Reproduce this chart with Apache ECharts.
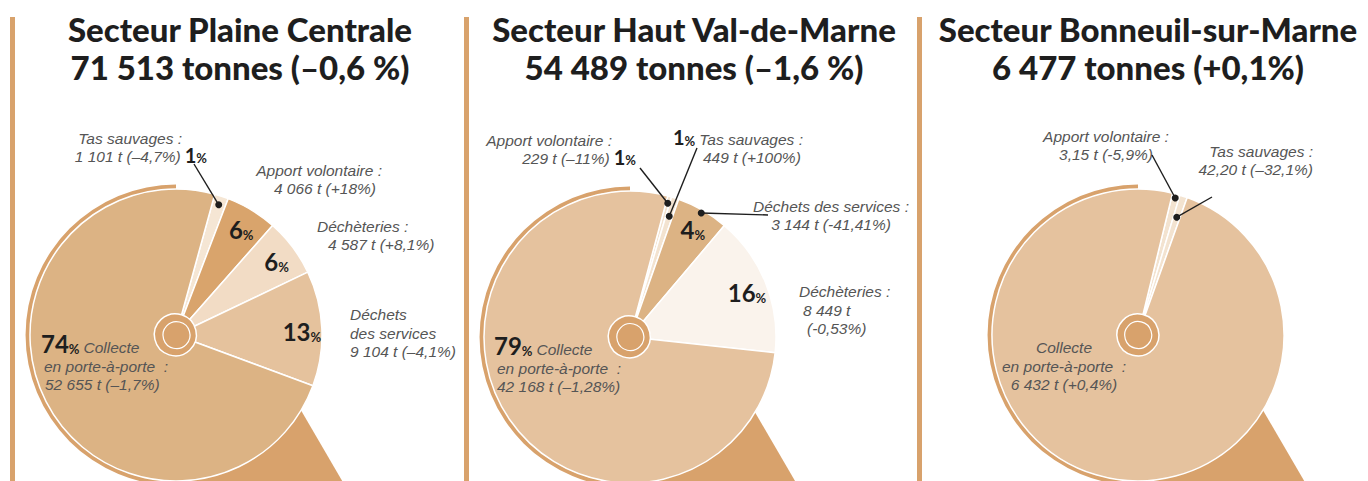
<!DOCTYPE html>
<html>
<head>
<meta charset="utf-8">
<title>Secteurs</title>
<script src="https://cdn.jsdelivr.net/npm/echarts@6/dist/echarts.min.js"></script>
<style>
html,body{margin:0;padding:0;background:#fff;}
#main{width:1368px;height:481px;}
</style>
</head>
<body>
<div id="main"></div>
<script>
// titres des trois secteurs
var titles = [
    'Secteur Plaine Centrale\n71 513 tonnes (–0,6 %)',
    'Secteur Haut Val-de-Marne\n54 489 tonnes (–1,6 %)',
    'Secteur Bonneuil-sur-Marne\n6 477 tonnes (+0,1%)'
];

// Plaine Centrale
var names1 = ['Tas sauvages', 'Apport volontaire', 'Déchèteries', 'Déchets des services', 'Collecte en porte-à-porte'];
var tonnes1 = [1101, 4066, 4587, 9104, 52655];
var labels1 = ['Tas sauvages :\n1 101 t (–4,7%)', 'Apport volontaire :\n4 066 t (+18%)', 'Déchèteries :\n4 587 t (+8,1%)', 'Déchets\ndes services\n9 104 t (–4,1%)', 'Collecte\nen porte-à-porte  :\n52 655 t (–1,7%)'];
var pct1 = ['1', '6', '6', '13', '74'];

// Haut Val-de-Marne
var names2 = ['Apport volontaire', 'Tas sauvages', 'Déchets des services', 'Déchèteries', 'Collecte en porte-à-porte'];
var tonnes2 = [229, 449, 3144, 8449, 42168];
var labels2 = ['Apport volontaire :\n229 t (–11%)', 'Tas sauvages :\n449 t (+100%)', 'Déchets des services :\n3 144 t (-41,41%)', 'Déchèteries :\n8 449 t\n(-0,53%)', 'Collecte\nen porte-à-porte  :\n42 168 t (–1,28%)'];
var pct2 = ['1', '1', '4', '16', '79'];

// Bonneuil-sur-Marne
var names3 = ['Apport volontaire', 'Tas sauvages', 'Collecte en porte-à-porte'];
var tonnes3 = [3.15, 42.20, 6432];
var labels3 = ['Apport volontaire :\n3,15 t (-5,9%)', 'Tas sauvages :\n42,20 t (–32,1%)', 'Collecte\nen porte-à-porte  :\n6 432 t (+0,4%)'];
var pct3 = ['', '', ''];

var ring = '#d8a26c';
var ink = '#1e1e1e';
var grey = '#555555';
var R = 146;

// mise en page (positions relatives au centre du camembert)
var sectors = [
    {
        names: names1, values: tonnes1, labels: labels1, pct: pct1, titleX: 240, barX: 10,
        cx: 176, cy: 335, start: 74.6, minAngle: 0,
        colors: ['#f5e6d4', '#d9a46c', '#f2dcc5', '#e5c29d', '#dcb384'],
        desc: [
            { dx: 31, dy: -189, align: 'right', pct: 'after', gaps: [25, 0] },
            { dx: 206, dy: -157, align: 'right', gaps: [0, 6] },
            { dx: 141, dy: -101, align: 'left', gaps: [0, 11] },
            { dx: 174, dy: -3, align: 'left' },
            { dx: -135, dy: 25, align: 'left', pct: 'big', gaps: [0, 3, 4] }
        ],
        inside: [0, 1, 1, 1, 0],
        leaders: [{ item: 0, r: 137, end: [18, -171] }]
    },
    {
        names: names2, values: tonnes2, labels: labels2, pct: pct2, titleX: 694, barX: 464,
        cx: 630, cy: 337, start: 75, minAngle: 0,
        colors: ['#f3e3d0', '#f3e3d0', '#dcb384', '#faf3ec', '#e5c29e'],
        desc: [
            { dx: 6, dy: -189, align: 'right', pct: 'after', gaps: [24, 0] },
            { dx: 43, dy: -190, align: 'left', pct: 'before', gaps: [0, 30] },
            { dx: 201, dy: -123, align: 'center' },
            { dx: 169, dy: -28, align: 'left', gaps: [0, 4, 8] },
            { dx: -136, dy: 25, align: 'left', pct: 'big', gaps: [0, 3, 3] }
        ],
        inside: [0, 0, 1, 1, 0],
        leaders: [
            { item: 0, r: 139, end: [10, -169] },
            { item: 1, r: 127, end: [67, -189] },
            { item: 2, r: 143, end: [138, -122] }
        ]
    },
    {
        names: names3, values: tonnes3, labels: labels3, pct: pct3, titleX: 1148, barX: 917,
        cx: 1138, cy: 335, start: 76.3, minAngle: 3,
        colors: ['#f3e3d0', '#f3e3d0', '#e5c29e'],
        desc: [
            { dx: -32, dy: -191, align: 'center' },
            { dx: 175, dy: -176, align: 'right' },
            { dx: -74, dy: 30, align: 'center' }
        ],
        inside: [0, 0, 0],
        leaders: [
            { item: 0, r: 142, end: [14, -180] },
            { item: 1, r: 124, end: [74, -138] }
        ]
    }
];

var rich = {
    txt: { fontFamily: 'Liberation Sans', fontStyle: 'italic', fontSize: 15.5, color: grey, lineHeight: 18.5, verticalAlign: 'bottom' },
    num: { fontFamily: 'Lato', fontWeight: 'bold', fontSize: 20, color: ink, lineHeight: 18.5, verticalAlign: 'bottom' },
    big: { fontFamily: 'Lato', fontWeight: 'bold', fontSize: 24, color: ink, lineHeight: 28, verticalAlign: 'bottom' },
    pc: { fontFamily: 'Lato', fontWeight: 'bold', fontSize: 13, color: ink, lineHeight: 18, verticalAlign: 'bottom' },
    sp: { fontSize: 14, width: 4, lineHeight: 18, verticalAlign: 'bottom' }
};
sectors.forEach(function (s) {
    s.desc.forEach(function (c) {
        (c.gaps || []).forEach(function (g) {
            if (g) rich['g' + g] = { width: g, fontSize: 14, lineHeight: 18, verticalAlign: 'bottom' };
        });
    });
});

function richFor(text, pct, c) {
    var lines = text.split('\n');
    return lines.map(function (ln, i) {
        var t = '{txt|' + ln + '}';
        var g = c.gaps ? c.gaps[i] : 0;
        if (g) t = c.align === 'right' ? t + '{g' + g + '| }' : '{g' + g + '| }' + t;
        if (c.pct === 'after' && i === lines.length - 1) t += '{sp| }{num|' + pct + '}{pc|%}';
        if (c.pct === 'before' && i === 0) t = '{num|' + pct + '}{pc|%}{sp| }' + t;
        if (c.pct === 'big' && i === 0) t = '{big|' + pct + '}{pc|%}{sp| }' + t;
        return t;
    }).join('\n');
}

// angle median de chaque part (meme calcul que le pie, minAngle compris)
function midAngles(values, minAngle) {
    var sum = 0;
    values.forEach(function (v) { sum += v; });
    var rest = 360, big = 0;
    var small = values.map(function (v) {
        if (v / sum * 360 < minAngle) { rest -= minAngle; return true; }
        big += v;
        return false;
    });
    var acc = 0;
    return values.map(function (v, i) {
        var a = small[i] ? minAngle : v * rest / big;
        var m = acc + a / 2;
        acc += a;
        return m;
    });
}

var series = [];
var graphic = [];
var title = [];
var polar = [], angleAxis = [], radiusAxis = [];
var clear = 'rgba(0,0,0,0)';
var PR = 300; // rayon du repere polaire, 1 unite = 1 px

sectors.forEach(function (s, k) {
    title.push({
        text: titles[k], left: s.titleX, top: 10, textAlign: 'center', padding: 0,
        textStyle: { fontFamily: 'Lato', fontWeight: 900, fontSize: 33, lineHeight: 38, color: ink }
    });

    graphic.push({ type: 'rect', shape: { x: s.barX, y: 17, width: 5, height: 470 }, style: { fill: ring } });

    // ombre / queue sous le camembert
    var dx = 0.504, dy = 0.864, nx = dy, ny = -dx, w = 70, L = 420;
    graphic.push({
        type: 'polygon',
        shape: { points: [
            [s.cx + nx * w, s.cy + ny * w],
            [s.cx + nx * w + dx * L, s.cy + ny * w + dy * L],
            [s.cx - nx * w + dx * L, s.cy - ny * w + dy * L],
            [s.cx - nx * w, s.cy - ny * w]
        ] },
        style: { fill: ring }
    });

    var base = {
        type: 'pie', center: [s.cx, s.cy], startAngle: s.start, clockwise: true,
        minAngle: s.minAngle, avoidLabelOverlap: false, silent: true,
        label: { show: false }, labelLine: { show: false }
    };

    // anneau decale
    series.push(echarts.util.merge({
        radius: [R, R + 4.5], startAngle: 90, clockwise: false, minAngle: 0,
        data: [{ value: 1, itemStyle: { color: ring } }, { value: 1, itemStyle: { color: clear } }]
    }, base));

    // parts
    series.push(echarts.util.merge({
        radius: [0, R],
        itemStyle: { borderColor: '#fff', borderWidth: 1.5 },
        data: s.values.map(function (v, i) {
            var c = s.desc[i];
            var txt = richFor(s.labels[i], s.pct[i], c);
            return {
                value: v, name: s.names[i], itemStyle: { color: s.colors[i] },
                label: { show: true, position: 'inside', align: c.align, formatter: function () { return txt; }, rich: rich }
            };
        }),
        labelLayout: function (p) {
            var c = s.desc[p.dataIndex];
            return { x: s.cx + c.dx, y: s.cy + c.dy, align: c.align, verticalAlign: 'middle' };
        }
    }, base, false));

    // pourcentages a l'interieur des parts
    series.push(echarts.util.merge({
        radius: [100, R],
        itemStyle: { color: clear, borderWidth: 0 },
        data: s.values.map(function (v, i) {
            var t = '{big|' + s.pct[i] + '}{pc|%}';
            return {
                value: v, name: s.names[i],
                label: { show: !!s.inside[i], position: 'inside', formatter: function () { return t; }, rich: rich }
            };
        })
    }, base, false));

    // disque central
    series.push(echarts.util.merge({
        radius: [0, 21], data: [{ value: 1 }], minAngle: 0,
        itemStyle: { color: ring, borderColor: '#fff', borderWidth: 1.5 }
    }, base, false));
    series.push(echarts.util.merge({
        radius: [0, 13.5], data: [{ value: 1 }], minAngle: 0,
        itemStyle: { color: ring, borderColor: '#fff', borderWidth: 1.2 }
    }, base, false));

    // traits de rappel : point sur la part (angle median) -> texte
    polar.push({ center: [s.cx, s.cy], radius: PR });
    angleAxis.push({ polarIndex: k, type: 'value', min: 0, max: 360, startAngle: s.start, clockwise: true, show: false });
    radiusAxis.push({ polarIndex: k, type: 'value', min: 0, max: PR, show: false });
    var mids = midAngles(s.values, s.minAngle);
    s.leaders.forEach(function (ld) {
        var ex = ld.end[0], ey = ld.end[1];
        var rEnd = Math.sqrt(ex * ex + ey * ey);
        var aEnd = ((s.start - Math.atan2(-ey, ex) * 180 / Math.PI) % 360 + 360) % 360;
        series.push({
            type: 'line', coordinateSystem: 'polar', polarIndex: k, silent: true, clip: false, z: 10,
            symbol: 'none', lineStyle: { color: ink, width: 1.4 }, itemStyle: { color: ink },
            data: [
                { value: [ld.r, mids[ld.item]], symbol: 'circle', symbolSize: 7 },
                [rEnd, aEnd]
            ]
        });
    });
});

var myChart = echarts.init(document.getElementById('main'), null, { renderer: 'svg' });
myChart.setOption({
    animation: false,
    backgroundColor: '#fff',
    title: title,
    graphic: graphic,
    polar: polar,
    angleAxis: angleAxis,
    radiusAxis: radiusAxis,
    series: series
});
</script>
</body>
</html>
